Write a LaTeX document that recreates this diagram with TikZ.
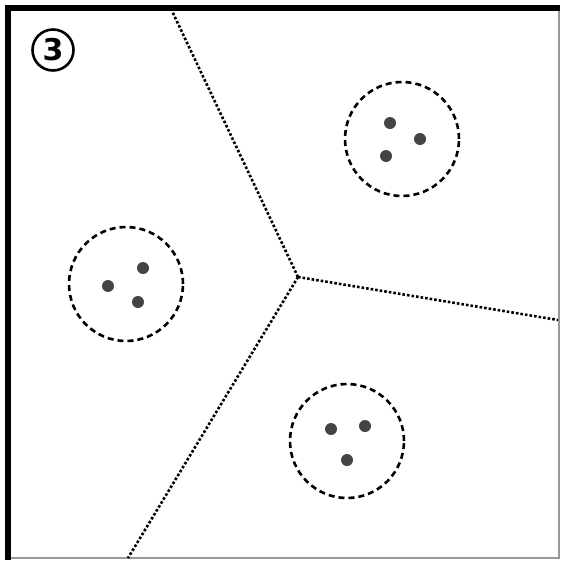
\documentclass[tikz,border=0pt]{standalone}
\usepackage{fontspec}
\newfontfamily\numfont{DejaVu Sans}
\usepackage{xcolor}
\definecolor{dotgray}{HTML}{444444}
\definecolor{edgegray}{HTML}{999999}
\usepackage{tikz}
\usetikzlibrary{positioning}
\tikzset{
  cluster/.style={circle, draw=black, dash pattern=on 6pt off 4pt,
    line width=2.6pt, minimum size=114pt, inner sep=0pt},
  point/.style={circle, fill=dotgray, minimum size=12pt, inner sep=0pt},
  border/.style={line width=6pt, draw=black},
  cellwall/.style={line width=2.6pt, dash pattern=on 2.6pt off 2pt},
  stepnum/.style={circle, draw=black, line width=2.6pt, minimum size=41pt,
    inner sep=0pt, font=\numfont\bfseries\fontsize{30}{30}\selectfont},
}

\begin{document}
\begin{tikzpicture}[x=1pt, y=-1pt]
  \useasboundingbox (0,0) rectangle (561,560);
  % frame
  \draw[edgegray, line width=1.5pt] (559,11) -- (559,558) -- (8,558);
  \draw[border] (8,560) -- (8,8) -- (560,8);

  \node[stepnum] (num) at (53,50) {3};

  % cells
  \coordinate (hub) at (298,277);
  \coordinate (topend) at (172,11);
  \coordinate (rightend) at (558,320);
  \coordinate (botend) at (128,558);
  \draw[cellwall] (hub) -- (topend);
  \draw[cellwall] (hub) -- (rightend);
  \draw[cellwall] (hub) -- (botend);

  % clusters
  \node[cluster] (c1) at (402,139) {};
  \node[point] (p11) at (390,123) {};
  \node[point] (p12) at (420,139) {};
  \node[point] (p13) at (386,156) {};

  \node[cluster] (c2) at (126,284) {};
  \node[point] (p21) at (108,286) {};
  \node[point] (p22) at (143,268) {};
  \node[point] (p23) at (138,302) {};

  \node[cluster] (c3) at (347,441) {};
  \node[point] (p31) at (331,429) {};
  \node[point] (p32) at (365,426) {};
  \node[point] (p33) at (347,460) {};
\end{tikzpicture}
\end{document}
